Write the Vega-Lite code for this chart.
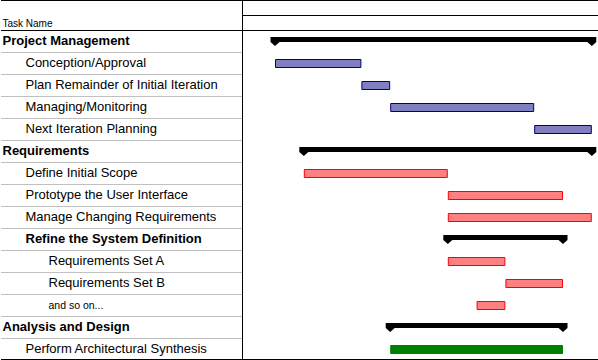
{
  "$schema": "https://vega.github.io/schema/vega-lite/v6.json",
  "padding": 0,
  "spacing": 0,
  "background": "white",
  "config": {"view": {"stroke": null}, "font": "Liberation Sans"},
  "datasets": {
    "tasks": [
      {"id": 0, "task": "Project Management", "level": 0, "summary": true, "group": "pm", "start": 0, "end": 22},
      {"id": 1, "task": "Conception/Approval", "level": 1, "summary": false, "group": "pm", "start": 0, "end": 6},
      {"id": 2, "task": "Plan Remainder of Initial Iteration", "level": 1, "summary": false, "group": "pm", "start": 6, "end": 8},
      {"id": 3, "task": "Managing/Monitoring", "level": 1, "summary": false, "group": "pm", "start": 8, "end": 18},
      {"id": 4, "task": "Next Iteration Planning", "level": 1, "summary": false, "group": "pm", "start": 18, "end": 22},
      {"id": 5, "task": "Requirements", "level": 0, "summary": true, "group": "req", "start": 2, "end": 22},
      {"id": 6, "task": "Define Initial Scope", "level": 1, "summary": false, "group": "req", "start": 2, "end": 12},
      {"id": 7, "task": "Prototype the User Interface", "level": 1, "summary": false, "group": "req", "start": 12, "end": 20},
      {"id": 8, "task": "Manage Changing Requirements", "level": 1, "summary": false, "group": "req", "start": 12, "end": 22},
      {"id": 9, "task": "Refine the System Definition", "level": 1, "summary": true, "group": "req", "start": 12, "end": 20},
      {"id": 10, "task": "Requirements Set A", "level": 2, "summary": false, "group": "req", "start": 12, "end": 16},
      {"id": 11, "task": "Requirements Set B", "level": 2, "summary": false, "group": "req", "start": 16, "end": 20},
      {"id": 12, "task": "and so on...", "level": 2, "summary": false, "group": "req", "start": 14, "end": 16},
      {"id": 13, "task": "Analysis and Design", "level": 0, "summary": true, "group": "ad", "start": 8, "end": 20},
      {"id": 14, "task": "Perform Architectural Synthesis", "level": 1, "summary": false, "group": "ad", "start": 8, "end": 20}
    ],
    "header": [
      {"label": "Task Name", "level": 0, "tier": "bottom"}
    ],
    "tiers": [
      {"tier": "top"},
      {"tier": "bottom"}
    ]
  },
  "vconcat": [
    {
      "spacing": 0,
      "bounds": "flush",
      "hconcat": [
        {
          "width": 241,
          "height": 30,
          "layer": [
            {
              "data": {"name": "tiers"},
              "transform": [{"filter": "datum.tier === 'top'"}],
              "mark": {"type": "rule", "color": "black", "strokeWidth": 1, "yOffset": 0.5},
              "encoding": {
                "y": {"field": "tier", "type": "nominal", "bandPosition": 0,
                  "scale": {"domain": ["top", "bottom"], "paddingInner": 0, "paddingOuter": 0},
                  "axis": {"orient": "right", "domain": true, "domainColor": "black", "domainWidth": 1, "labels": false, "ticks": false, "grid": false, "title": null}}
              }
            },
            {
              "data": {"name": "header"},
              "mark": {"type": "text", "align": "left", "baseline": "alphabetic", "dy": 4.5, "fontSize": 10, "color": "black"},
              "encoding": {
                "x": {"field": "level", "type": "quantitative", "scale": {"domain": [0, 1], "range": [1.5, 24.5], "zero": false, "nice": false}, "axis": null},
                "y": {"field": "tier", "type": "nominal"},
                "text": {"field": "label"}
              }
            }
          ]
        },
        {
          "width": 357,
          "height": 30,
          "data": {"name": "tiers"},
          "mark": {"type": "rule", "color": "black", "strokeWidth": 1, "yOffset": 0.5},
          "encoding": {
            "y": {"field": "tier", "type": "nominal", "bandPosition": 0,
              "scale": {"domain": ["top", "bottom"], "paddingInner": 0, "paddingOuter": 0}, "axis": null}
          }
        }
      ]
    },
    {
      "spacing": 0,
      "bounds": "flush",
      "hconcat": [
        {
          "width": 241,
          "height": 330,
          "data": {"name": "tasks"},
          "layer": [
            {
              "mark": {"type": "rule", "strokeWidth": 1, "yOffset": 0.5},
              "encoding": {
                "y": {"field": "id", "type": "ordinal", "bandPosition": 0,
                  "scale": {"paddingInner": 0, "paddingOuter": 0},
                  "axis": {"orient": "right", "domain": true, "domainColor": "black", "domainWidth": 1, "labels": false, "ticks": false, "grid": false, "title": null}},
                "color": {"condition": {"test": "datum.id === 0", "value": "black"}, "value": "#c0c0c0"}
              }
            },
            {
              "transform": [{"filter": "datum.id === 14"}],
              "mark": {"type": "rule", "color": "black", "strokeWidth": 1, "yOffset": -0.5},
              "encoding": {
                "y": {"field": "id", "type": "ordinal", "bandPosition": 1}
              }
            },
            {
              "transform": [{"filter": "!datum.summary"}],
              "mark": {"type": "text", "align": "left", "baseline": "alphabetic", "dy": 3.5, "color": "black"},
              "encoding": {
                "x": {"field": "level", "type": "quantitative", "scale": {"domain": [0, 1], "range": [1.5, 24.5], "zero": false, "nice": false}, "axis": null},
                "y": {"field": "id", "type": "ordinal"},
                "text": {"field": "task"},
                "size": {"condition": {"test": "datum.task === 'and so on...'", "value": 10.5}, "value": 13}
              }
            },
            {
              "transform": [{"filter": "datum.summary"}],
              "mark": {"type": "text", "align": "left", "baseline": "alphabetic", "dy": 4, "fontWeight": "bold", "fontSize": 13, "color": "black"},
              "encoding": {
                "x": {"field": "level", "type": "quantitative"},
                "y": {"field": "id", "type": "ordinal"},
                "text": {"field": "task"}
              }
            }
          ]
        },
        {
          "width": 357,
          "height": 330,
          "data": {"name": "tasks"},
          "layer": [
            {
              "transform": [{"filter": "datum.id === 0"}],
              "mark": {"type": "rule", "color": "black", "strokeWidth": 1, "yOffset": 0.5},
              "encoding": {
                "y": {"field": "id", "type": "ordinal", "bandPosition": 0,
                  "scale": {"domain": [0,1,2,3,4,5,6,7,8,9,10,11,12,13,14], "paddingInner": 0, "paddingOuter": 0}, "axis": null}
              }
            },
            {
              "transform": [{"filter": "datum.id === 14"}],
              "mark": {"type": "rule", "color": "black", "strokeWidth": 1, "yOffset": -0.5},
              "encoding": {
                "y": {"field": "id", "type": "ordinal", "bandPosition": 1}
              }
            },
            {
              "transform": [{"filter": "!datum.summary"}],
              "mark": {"type": "bar", "height": 8, "yOffset": 0.5, "xOffset": 0.5, "x2Offset": -0.5, "strokeWidth": 1, "opacity": 1},
              "encoding": {
                "x": {"field": "start", "type": "quantitative", "scale": {"domain": [-2.2917, 22.5], "zero": false, "nice": false}, "axis": null},
                "x2": {"field": "end"},
                "y": {"field": "id", "type": "ordinal"},
                "fill": {"field": "group", "type": "nominal", "scale": {"domain": ["pm", "req", "ad"], "range": ["#8080c0", "#ff8080", "#008000"]}, "legend": null},
                "stroke": {"field": "group", "type": "nominal", "scale": {"domain": ["pm", "req", "ad"], "range": ["#000080", "#ff0000", "#008000"]}, "legend": null}
              }
            },
            {
              "transform": [{"filter": "datum.summary"}],
              "mark": {"type": "bar", "height": 5, "yOffset": -1.5, "color": "black", "opacity": 1},
              "encoding": {
                "x": {"field": "start", "type": "quantitative"},
                "x2": {"field": "end"},
                "y": {"field": "id", "type": "ordinal"}
              }
            },
            {
              "transform": [{"filter": "datum.summary"}],
              "mark": {"type": "point", "shape": "M-1,-1L1,-1L1,0.1L0,1L-1,0.1Z", "size": 81, "filled": true, "color": "black", "opacity": 1, "yOffset": 0.5},
              "encoding": {
                "x": {"field": "start", "type": "quantitative"},
                "y": {"field": "id", "type": "ordinal"}
              }
            },
            {
              "transform": [{"filter": "datum.summary"}],
              "mark": {"type": "point", "shape": "M-1,-1L1,-1L1,0.1L0,1L-1,0.1Z", "size": 81, "filled": true, "color": "black", "opacity": 1, "yOffset": 0.5},
              "encoding": {
                "x": {"field": "end", "type": "quantitative"},
                "y": {"field": "id", "type": "ordinal"}
              }
            }
          ]
        }
      ]
    }
  ]
}
